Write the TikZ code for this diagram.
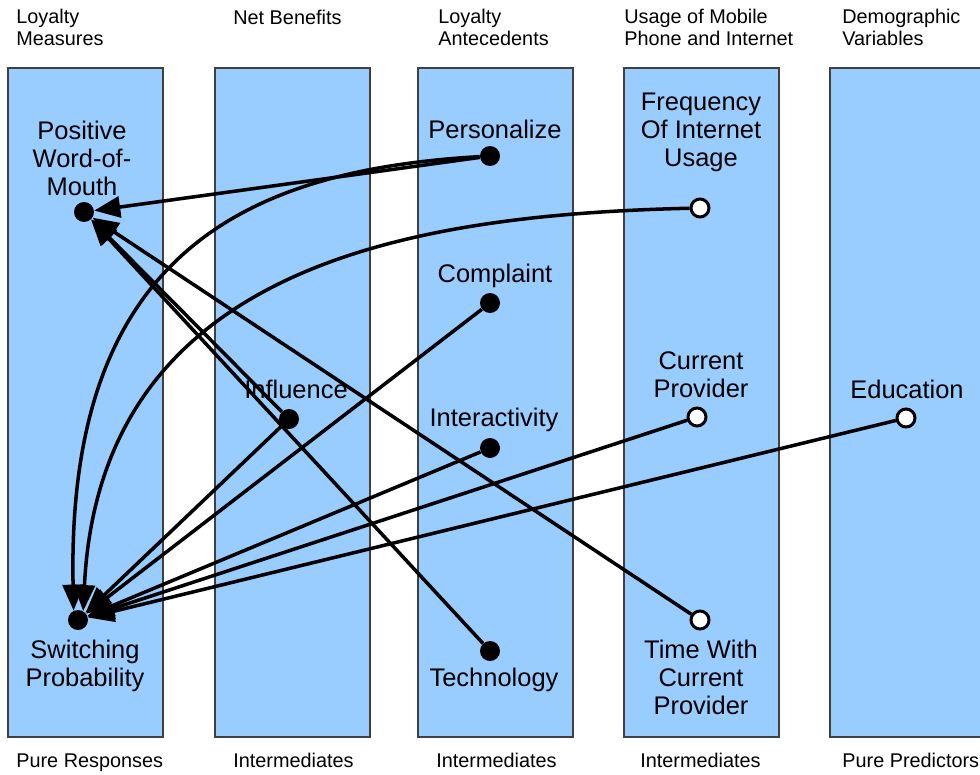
\documentclass[tikz,border=0pt]{standalone}
\usepackage{fontspec}
\setmainfont{Liberation Sans}
\usetikzlibrary{arrows.meta}
\definecolor{colbg}{HTML}{99CCFF}
\tikzset{
  col/.style  = {draw=black!75, fill=colbg, line width=0.6pt},
  hdr/.style  = {anchor=base west, align=left, inner sep=0pt,
                 font=\fontsize{11.3}{12}\selectfont},
  lbl/.style  = {anchor=base, align=center, inner sep=0pt,
                 font=\fontsize{14.5}{15.9}\selectfont},
  dot/.style  = {circle, fill=black, inner sep=0pt, minimum size=4mm},
  odot/.style = {circle, draw=black, fill=white, line width=1.7pt,
                 inner sep=0pt, minimum size=3.6mm},
  ar/.style   = {-{Triangle[length=5.2mm,width=4.2mm]}, line width=2pt},
}

\begin{document}
\begin{tikzpicture}[x=0.02cm, y=-0.02cm]
  \clip (0,0) rectangle (980,774);
  % the five variable groups
  \foreach \x in {8,215,418,624,830}
    \draw[col] (\x,68) rectangle ++(155,669);

  % group titles and roles (base = last line)
  \node[hdr] (h1) at (16,45)  {Loyalty\\Measures};
  \node[hdr] (h2) at (233,24) {Net Benefits};
  \node[hdr] (h3) at (438,45) {Loyalty\\Antecedents};
  \node[hdr] (h4) at (624,45) {Usage of Mobile\\Phone and Internet};
  \node[hdr] (h5) at (842,45) {Demographic\\Variables};
  \node[hdr] (r1) at (16,767)  {Pure Responses};
  \node[hdr] (r2) at (233,767) {Intermediates};
  \node[hdr] (r3) at (436,767) {Intermediates};
  \node[hdr] (r4) at (640,767) {Intermediates};
  \node[hdr] (r5) at (842,767) {Pure Predictors};

  % variable names
  \node[lbl] (pwm-l)   at (82,195)  {Positive\\Word-of-\\Mouth};
  \node[lbl] (sp-l)    at (85,686)  {Switching\\Probability};
  \node[lbl] (infl-l)  at (296,398) {Influence};
  \node[lbl] (pers-l)  at (495,138) {Personalize};
  \node[lbl] (compl-l) at (495,282) {Complaint};
  \node[lbl] (inter-l) at (494,426) {Interactivity};
  \node[lbl] (tech-l)  at (494,686) {Technology};
  \node[lbl] (freq-l)  at (701,166) {Frequency\\Of Internet\\Usage};
  \node[lbl] (curr-l)  at (701,397) {Current\\Provider};
  \node[lbl] (time-l)  at (701,714) {Time With\\Current\\Provider};
  \node[lbl] (edu-l)   at (907,398) {Education};

  % responses and intermediates
  \node[dot] (pwm)   at (84,212)  {};
  \node[dot] (sp)    at (78,620)  {};
  \node[dot] (infl)  at (289,419) {};
  \node[dot] (pers)  at (490,156) {};
  \node[dot] (compl) at (490,303) {};
  \node[dot] (inter) at (490,448) {};
  \node[dot] (tech)  at (490,651) {};
  % predictors
  \node[odot] (freq) at (700,208) {};
  \node[odot] (curr) at (697,417) {};
  \node[odot] (time) at (700,620) {};
  \node[odot] (edu)  at (906,418) {};

  % effects on word-of-mouth
  \foreach \n in {pers,infl,tech,time}
    \draw[ar] (\n) -- (pwm);
  % effects on switching
  \draw[ar] (pers) .. controls (250,170) and (66,250) .. (sp.115);
  \draw[ar] (freq) .. controls (400,215) and (100,270) .. (sp.60);
  \foreach \n in {infl,compl,inter,curr,edu}
    \draw[ar] (\n) -- (sp);
\end{tikzpicture}
\end{document}
